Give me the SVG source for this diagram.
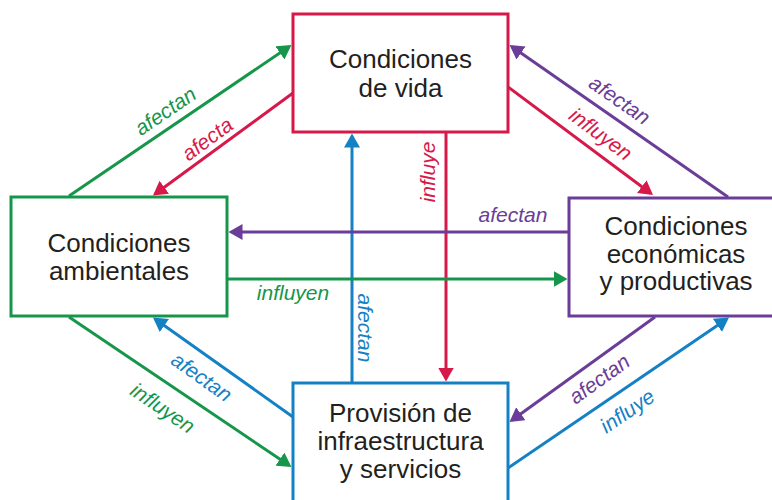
<svg xmlns="http://www.w3.org/2000/svg" width="772" height="500" viewBox="0 0 772 500">
<style>
.box{fill:#fff;stroke-width:3}
.t{font-family:"Liberation Sans",Arial,sans-serif;font-size:26px;fill:#231f20;text-anchor:middle}
.l{font-family:"Liberation Sans",Arial,sans-serif;font-size:21px;font-style:italic;text-anchor:middle}
.c{fill:none;stroke-width:3}
.red{stroke:#d7194a}.green{stroke:#16964a}.purple{stroke:#6a3d98}.blue{stroke:#1581c5}
.fr{fill:#d7194a}.fg{fill:#16964a}.fp{fill:#6a3d98}.fb{fill:#1581c5}
</style>
<defs>
<marker id="ar" markerUnits="userSpaceOnUse" markerWidth="16" markerHeight="16" refX="11" refY="8" orient="auto"><path d="M0,0 L14,8 L0,16 z" class="fr"/></marker>
<marker id="ag" markerUnits="userSpaceOnUse" markerWidth="16" markerHeight="16" refX="11" refY="8" orient="auto"><path d="M0,0 L14,8 L0,16 z" class="fg"/></marker>
<marker id="ap" markerUnits="userSpaceOnUse" markerWidth="16" markerHeight="16" refX="11" refY="8" orient="auto"><path d="M0,0 L14,8 L0,16 z" class="fp"/></marker>
<marker id="ab" markerUnits="userSpaceOnUse" markerWidth="16" markerHeight="16" refX="11" refY="8" orient="auto"><path d="M0,0 L14,8 L0,16 z" class="fb"/></marker>
</defs>
<rect width="772" height="500" fill="#fff"/>
<g id="connectors">
<line class="c green" x1="69" y1="196" x2="289" y2="46.7" marker-end="url(#ag)"/>
<line class="c red" x1="293" y1="93" x2="155.4" y2="193.7" marker-end="url(#ar)"/>
<line class="c purple" x1="728" y1="197" x2="512" y2="46.7" marker-end="url(#ap)"/>
<line class="c red" x1="508" y1="87" x2="650.6" y2="193.2" marker-end="url(#ar)"/>
<line class="c red" x1="446" y1="133" x2="446" y2="378.5" marker-end="url(#ar)"/>
<line class="c blue" x1="352" y1="383" x2="352" y2="136.5" marker-end="url(#ab)"/>
<line class="c purple" x1="569" y1="232" x2="231.5" y2="232" marker-end="url(#ap)"/>
<line class="c green" x1="227" y1="279" x2="564.5" y2="279" marker-end="url(#ag)"/>
<line class="c green" x1="69" y1="317" x2="289" y2="465.3" marker-end="url(#ag)"/>
<line class="c blue" x1="293" y1="417" x2="155.4" y2="319.2" marker-end="url(#ab)"/>
<line class="c purple" x1="655" y1="317" x2="511.9" y2="420.2" marker-end="url(#ap)"/>
<line class="c blue" x1="508" y1="468" x2="726.5" y2="319.2" marker-end="url(#ab)"/>
<text class="l fg" transform="translate(166,112) rotate(-34.2)" y="6">afectan</text>
<text class="l fr" transform="translate(208,140) rotate(-36.2)" y="6">afecta</text>
<text class="l fp" transform="translate(619,101) rotate(34.8)" y="6">afectan</text>
<text class="l fr" transform="translate(600,135) rotate(36.7)" y="6">influyen</text>
<text class="l fr" transform="translate(435,172) rotate(-90)">influye</text>
<text class="l fb" transform="translate(358,328) rotate(90)">afectan</text>
<text class="l fp" x="513" y="222">afectan</text>
<text class="l fg" x="293" y="300">influyen</text>
<text class="l fg" transform="translate(162,409) rotate(34)" y="6">influyen</text>
<text class="l fb" transform="translate(201,378) rotate(35.4)" y="6">afectan</text>
<text class="l fp" transform="translate(600,380) rotate(-35.8)" y="6">afectan</text>
<text class="l fb" transform="translate(628,412) rotate(-34.3)" y="6">influye</text>
</g>
<g id="vida">
<rect class="box red" x="293" y="14" width="215" height="118"/>
<text class="t" x="400.5" y="68">Condiciones</text>
<text class="t" x="400.5" y="97">de vida</text>
</g>
<g id="ambientales">
<rect class="box green" x="11" y="197" width="216" height="119"/>
<text class="t" x="119" y="252">Condiciones</text>
<text class="t" x="119" y="280">ambientales</text>
</g>
<g id="economicas">
<rect class="box purple" x="569" y="198" width="230" height="118"/>
<text class="t" x="676" y="235">Condiciones</text>
<text class="t" x="676" y="263">económicas</text>
<text class="t" x="676" y="290">y productivas</text>
</g>
<g id="provision">
<rect class="box blue" x="293" y="383" width="215" height="130"/>
<text class="t" x="400.5" y="422">Provisión de</text>
<text class="t" x="400.5" y="450">infraestructura</text>
<text class="t" x="400.5" y="478">y servicios</text>
</g>
</svg>
